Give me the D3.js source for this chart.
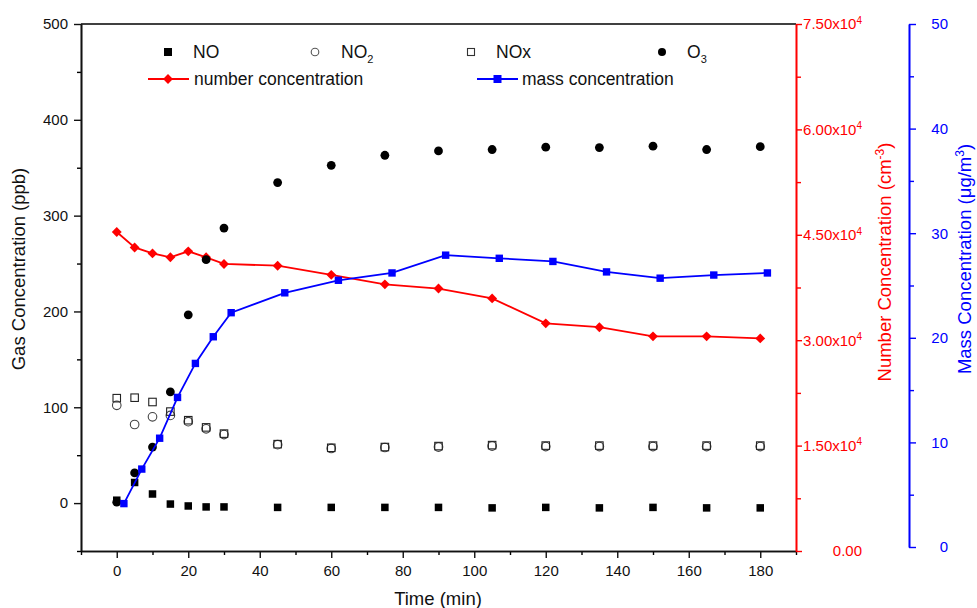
<!DOCTYPE html>
<html>
<head>
<meta charset="utf-8">
<script src="https://cdn.jsdelivr.net/npm/d3@7"></script>
<style>
  body { margin: 0; background: #fff; }
  text { font-family: "Liberation Sans", Arial, sans-serif; }
</style>
</head>
<body>
<div id="chart"></div>
<script>
// Data
const times = [0, 5, 10, 15, 20, 25, 30, 45, 60, 75, 90, 105, 120, 135, 150, 165, 180]
const noValues = [3, 21.5, 9.5, -1, -3, -4, -4, -4.5, -4.5, -4.5, -4.5, -5, -4.5, -5, -4.5, -5, -5]
const no2Values = [102, 82, 90, 91.5, 85, 77.5, 71.5, 61, 57, 58, 58.5, 59.5, 59, 59, 59, 59, 59]
const noxValues = [109.5, 110, 105.5, 95.5, 86.5, 79, 72.5, 61.5, 57.7, 58.5, 59.5, 60.5, 60, 60, 60, 60, 60]
const o3Values = [1, 31.5, 58.5, 116, 196.5, 254, 287, 334.5, 352.5, 363, 367.5, 369, 371.5, 371, 372.5, 369, 372]
const numberValues = [45400, 43200, 42350, 41800, 42650, 41800, 40850, 40600, 39300, 37950, 37350, 35950, 32400, 31850, 30550, 30550, 30250]
const massTimes = [2, 7, 12, 17, 22, 27, 32, 47, 62, 77, 92, 107, 122, 137, 152, 167, 182]
const massValues = [4.15, 7.45, 10.4, 14.3, 17.55, 20.1, 22.4, 24.3, 25.5, 26.2, 27.9, 27.6, 27.3, 26.3, 25.7, 26.0, 26.2]

const timeTicks = [0, 20, 40, 60, 80, 100, 120, 140, 160, 180]
const timeMinor = [-10, 10, 30, 50, 70, 90, 110, 130, 150, 170, 190]
const gasTicks = [0, 100, 200, 300, 400, 500]
const gasMinor = [-50, 50, 150, 250, 350, 450]
const numTicks = [0, 15000, 30000, 45000, 60000, 75000]
const numMinor = [7500, 22500, 37500, 52500, 67500]
const massTicks = [0, 10, 20, 30, 40, 50]
const massMinor = [5, 15, 25, 35, 45]

function draw() {
  const width = 977
  const height = 608
  const plot = { left: 81, right: 796, top: 24, bottom: 551 }
  const blueX = 909
  const red = '#ff0000'
  const blue = '#0000ff'

  const svg = d3.select('#chart')
    .append('svg')
    .attr('width', width)
    .attr('height', height)

  // SCALES
  const x = d3.scaleLinear().domain([-10, 190]).range([plot.left, plot.right])
  const yGas = d3.scaleLinear().domain([-50, 500]).range([plot.bottom, plot.top])
  const yNum = d3.scaleLinear().domain([0, 75000]).range([plot.bottom, plot.top])
  const yMass = d3.scaleLinear().domain([0, 50]).range([547, plot.top])

  const styleAxis = g => g
    .attr('font-size', 15)
    .attr('font-family', '"Liberation Sans", Arial, sans-serif')
    .call(g => g.select('.domain').attr('stroke-width', 1.6))
    .call(g => g.selectAll('.tick line').attr('stroke-width', 1.4))

  // top border
  svg.append('line')
    .attr('x1', plot.left).attr('x2', plot.right)
    .attr('y1', plot.top).attr('y2', plot.top)
    .attr('stroke', '#000').attr('stroke-width', 1.6)

  // AXES
  svg.append('g')
    .attr('transform', `translate(0, ${plot.bottom})`)
    .call(d3.axisBottom(x).tickValues(timeMinor).tickSize(4).tickSizeOuter(0).tickFormat(''))
    .call(styleAxis)
  svg.append('g')
    .attr('transform', `translate(0, ${plot.bottom})`)
    .call(d3.axisBottom(x).tickValues(timeTicks).tickSize(7).tickPadding(7).tickSizeOuter(0))
    .call(styleAxis)
    .attr('color', '#111')

  svg.append('g')
    .attr('transform', `translate(${plot.left}, 0)`)
    .call(d3.axisLeft(yGas).tickValues(gasMinor).tickSize(4).tickSizeOuter(0).tickFormat(''))
    .call(styleAxis)
  svg.append('g')
    .attr('transform', `translate(${plot.left}, 0)`)
    .call(d3.axisLeft(yGas).tickValues(gasTicks).tickSize(7).tickPadding(6).tickSizeOuter(0))
    .call(styleAxis)
    .attr('color', '#111')

  const redAxis = svg.append('g')
    .attr('transform', `translate(${plot.right}, 0)`)
    .attr('color', red)
  redAxis.append('g')
    .call(d3.axisRight(yNum).tickValues(numMinor).tickSize(5).tickSizeOuter(0).tickFormat(''))
    .call(styleAxis)
  redAxis.append('g')
    .call(d3.axisRight(yNum).tickValues(numTicks).tickSize(6).tickSizeOuter(0).tickFormat(''))
    .call(styleAxis)
    .call(g => g.selectAll('.tick text')
      .attr('x', 66)
      .attr('text-anchor', 'end')
      .each(function (d) {
        const t = d3.select(this)
        if (d === 0) {
          t.text('0.00')
        } else {
          t.append('tspan').text((d / 1e4).toFixed(2) + 'x10')
          t.append('tspan').attr('font-size', 10).attr('dy', '-0.55em').text('4')
        }
      }))

  const blueAxis = svg.append('g')
    .attr('transform', `translate(${blueX}, 0)`)
    .attr('color', blue)
  blueAxis.append('g')
    .call(d3.axisRight(yMass).tickValues(massMinor).tickSize(5).tickSizeOuter(0).tickFormat(''))
    .call(styleAxis)
  blueAxis.append('g')
    .call(d3.axisRight(yMass).tickValues(massTicks).tickSize(7).tickSizeOuter(0))
    .call(styleAxis)
    .call(g => g.selectAll('.tick text').attr('x', 39).attr('text-anchor', 'end'))

  // AXIS TITLES
  svg.append('text')
    .attr('x', 438).attr('y', 605)
    .attr('text-anchor', 'middle')
    .attr('font-size', 18.5)
    .attr('fill', '#111')
    .text('Time (min)')

  svg.append('text')
    .attr('transform', 'translate(25, 269) rotate(-90)')
    .attr('text-anchor', 'middle')
    .attr('font-size', 18.5)
    .attr('fill', '#111')
    .text('Gas Concentration (ppb)')

  const numTitle = svg.append('text')
    .attr('transform', 'translate(891, 262) rotate(-90)')
    .attr('text-anchor', 'middle')
    .attr('font-size', 18.5)
    .attr('fill', red)
  numTitle.append('tspan').text('Number Concentration (cm')
  numTitle.append('tspan').attr('font-size', 12).attr('dy', -7).text('-3')
  numTitle.append('tspan').attr('dy', 7).text(')')

  const massTitle = svg.append('text')
    .attr('transform', 'translate(971, 259) rotate(-90)')
    .attr('text-anchor', 'middle')
    .attr('font-size', 18.5)
    .attr('fill', blue)
  massTitle.append('tspan').text('Mass Concentration (μg/m')
  massTitle.append('tspan').attr('font-size', 12).attr('dy', -7).text('3')
  massTitle.append('tspan').attr('dy', 7).text(')')

  // DRAW SHAPES
  const numData = times.map((t, i) => ({ t, v: numberValues[i] }))
  const massData = massTimes.map((t, i) => ({ t, v: massValues[i] }))

  const numLine = d3.line().x(d => x(d.t)).y(d => yNum(d.v))
  const massLine = d3.line().x(d => x(d.t)).y(d => yMass(d.v))
  const diamond = d3.symbol().type(d3.symbolDiamond2).size(62)

  svg.append('path')
    .attr('d', numLine(numData))
    .attr('fill', 'none')
    .attr('stroke', red)
    .attr('stroke-width', 1.8)
  svg.append('g')
    .selectAll('path')
    .data(numData)
    .join('path')
    .attr('transform', d => `translate(${x(d.t)}, ${yNum(d.v)})`)
    .attr('d', diamond)
    .attr('fill', red)

  // gas scatter
  const square = (sel, data, size, filled) => sel.append('g')
    .selectAll('rect')
    .data(data)
    .join('rect')
    .attr('x', d => x(d.t) - size / 2)
    .attr('y', d => yGas(d.v) - size / 2)
    .attr('width', size)
    .attr('height', size)
    .attr('fill', filled ? '#000' : 'none')
    .attr('stroke', filled ? 'none' : '#222')
    .attr('stroke-width', 1.1)

  const circle = (sel, data, r, filled) => sel.append('g')
    .selectAll('circle')
    .data(data)
    .join('circle')
    .attr('cx', d => x(d.t))
    .attr('cy', d => yGas(d.v))
    .attr('r', r)
    .attr('fill', filled ? '#000' : 'none')
    .attr('stroke', filled ? 'none' : '#444')
    .attr('stroke-width', 1.1)

  const pairs = vals => times.map((t, i) => ({ t, v: vals[i] }))
  square(svg, pairs(noValues), 7.5, true)
  circle(svg, pairs(no2Values), 4.3, false)
  square(svg, pairs(noxValues), 7.5, false)
  circle(svg, pairs(o3Values), 4.4, true)

  svg.append('path')
    .attr('d', massLine(massData))
    .attr('fill', 'none')
    .attr('stroke', blue)
    .attr('stroke-width', 1.8)
  svg.append('g')
    .selectAll('rect')
    .data(massData)
    .join('rect')
    .attr('x', d => x(d.t) - 3.7)
    .attr('y', d => yMass(d.v) - 3.7)
    .attr('width', 7.4)
    .attr('height', 7.4)
    .attr('fill', blue)

  // LEGEND
  const legend = svg.append('g').attr('font-size', 17.5).attr('fill', '#111')
  const row1 = 52
  const row2 = 79

  legend.append('rect').attr('x', 164).attr('y', row1 - 4).attr('width', 8).attr('height', 8).attr('fill', '#000')
  legend.append('text').attr('x', 193).attr('y', row1 + 6).text('NO')

  legend.append('circle').attr('cx', 315).attr('cy', row1).attr('r', 3.8)
    .attr('fill', 'none').attr('stroke', '#555').attr('stroke-width', 1.1)
  const no2Text = legend.append('text').attr('x', 341).attr('y', row1 + 6)
  no2Text.append('tspan').text('NO')
  no2Text.append('tspan').attr('font-size', 11).attr('dy', 5).text('2')

  legend.append('rect').attr('x', 467.5).attr('y', row1 - 3.5).attr('width', 7).attr('height', 7)
    .attr('fill', 'none').attr('stroke', '#333').attr('stroke-width', 1.1)
  legend.append('text').attr('x', 496).attr('y', row1 + 6).text('NOx')

  legend.append('circle').attr('cx', 662).attr('cy', row1).attr('r', 4).attr('fill', '#000')
  const o3Text = legend.append('text').attr('x', 687).attr('y', row1 + 6)
  o3Text.append('tspan').text('O')
  o3Text.append('tspan').attr('font-size', 11).attr('dy', 5).text('3')

  legend.append('line').attr('x1', 148).attr('x2', 189).attr('y1', row2).attr('y2', row2)
    .attr('stroke', red).attr('stroke-width', 1.8)
  legend.append('path').attr('transform', `translate(168, ${row2})`).attr('d', diamond).attr('fill', red)
  legend.append('text').attr('x', 194).attr('y', row2 + 6).text('number concentration')

  legend.append('line').attr('x1', 477).attr('x2', 518).attr('y1', row2).attr('y2', row2)
    .attr('stroke', blue).attr('stroke-width', 1.8)
  legend.append('rect').attr('x', 493.5).attr('y', row2 - 4).attr('width', 8).attr('height', 8).attr('fill', blue)
  legend.append('text').attr('x', 522).attr('y', row2 + 6).text('mass concentration')
}

draw()
</script>
</body>
</html>
